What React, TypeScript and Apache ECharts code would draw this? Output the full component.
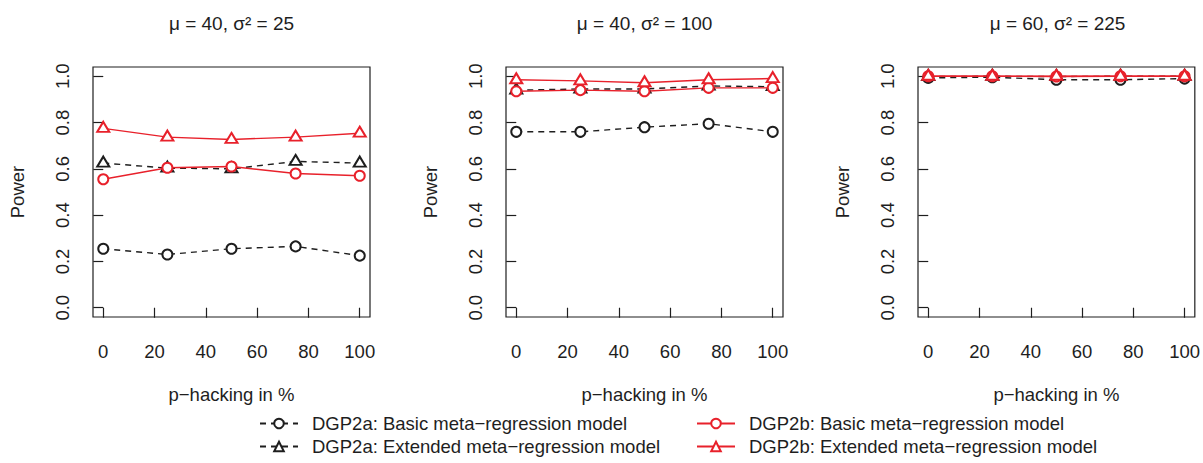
import React, { useEffect, useRef } from "react";
import * as echarts from "echarts";

// Share of p-hacked studies (x) and rejection rate / power (y)
const pHacking = [0, 25, 50, 75, 100];
const xTickValues = [0, 20, 40, 60, 80, 100];
const yTickValues = [0, 0.2, 0.4, 0.6, 0.8, 1.0];

const panelTitles = ["μ = 40, σ² = 25", "μ = 40, σ² = 100", "μ = 60, σ² = 225"];
const xAxisName = "p−hacking in %";
const yAxisName = "Power";

const nameBasicA = "DGP2a: Basic meta−regression model";
const nameExtA = "DGP2a: Extended meta−regression model";
const nameBasicB = "DGP2b: Basic meta−regression model";
const nameExtB = "DGP2b: Extended meta−regression model";

// Panel 1: μ = 40, σ² = 25
const basicA1 = [0.255, 0.23, 0.255, 0.265, 0.225];
const extA1 = [0.625, 0.603, 0.6, 0.632, 0.625];
const basicB1 = [0.555, 0.605, 0.61, 0.58, 0.57];
const extB1 = [0.775, 0.737, 0.727, 0.737, 0.754];

// Panel 2: μ = 40, σ² = 100
const basicA2 = [0.76, 0.76, 0.78, 0.795, 0.76];
const extA2 = [0.94, 0.945, 0.945, 0.958, 0.955];
const basicB2 = [0.935, 0.94, 0.935, 0.95, 0.95];
const extB2 = [0.985, 0.98, 0.972, 0.985, 0.99];

// Panel 3: μ = 60, σ² = 225
const basicA3 = [0.993, 0.996, 0.985, 0.985, 0.99];
const extA3 = [0.999, 1.0, 0.999, 1.0, 1.0];
const basicB3 = [1.0, 1.0, 0.999, 1.0, 1.0];
const extB3 = [1.0, 1.0, 1.0, 1.0, 1.0];

const panels = [
  { basicA: basicA1, extA: extA1, basicB: basicB1, extB: extB1 },
  { basicA: basicA2, extA: extA2, basicB: basicB2, extB: extB2 },
  { basicA: basicA3, extA: extA3, basicB: basicB3, extB: extB3 },
];

const FONT = "'Liberation Sans', Arial, 'DejaVu Sans', sans-serif";
const INK = "#1e1e1e";
const RED = "#e8212b";
const FS = 18.5;

const gridBoxes = [
  { left: 93, width: 277 },
  { left: 506, width: 277 },
  { left: 918, width: 279 },
];
const GRID_TOP = 67;
const GRID_HEIGHT = 250;

// Legend slots: one entry per key, two columns of two rows
const legendSlots = [
  { name: nameBasicA, left: 259, top: 414 },
  { name: nameExtA, left: 259, top: 437 },
  { name: nameBasicB, left: 696, top: 414 },
  { name: nameExtB, left: 696, top: 437 },
];

export default function App() {
  const ref = useRef<HTMLDivElement | null>(null);

  useEffect(() => {
    if (!ref.current) return;
    const chart = echarts.init(ref.current, null, { renderer: "svg" });

    const grids: any[] = [];
    const xAxes: any[] = [];
    const yAxes: any[] = [];
    const series: any[] = [];
    const graphics: any[] = [];

    const toPts = (vals: number[]) => pHacking.map((x, i) => [x, vals[i]]);

    panels.forEach((p, i) => {
      const box = gridBoxes[i];
      grids.push({
        left: box.left,
        top: GRID_TOP,
        width: box.width,
        height: GRID_HEIGHT,
        show: true,
        borderColor: INK,
        borderWidth: 1.2,
        backgroundColor: "transparent",
        containLabel: false,
      });
      xAxes.push({
        type: "value",
        gridIndex: i,
        min: -4,
        max: 104,
        splitLine: { show: false },
        axisLine: { show: false },
        axisTick: {
          show: true,
          inside: false,
          length: 10,
          customValues: xTickValues,
          lineStyle: { color: INK, width: 1.2 },
        },
        axisLabel: {
          customValues: xTickValues,
          margin: 25,
          color: INK,
          fontFamily: FONT,
          fontSize: FS,
        },
        name: xAxisName,
        nameLocation: "middle",
        nameGap: 68,
        nameTextStyle: { color: INK, fontFamily: FONT, fontSize: FS },
      });
      yAxes.push({
        type: "value",
        gridIndex: i,
        min: -0.04,
        max: 1.04,
        splitLine: { show: false },
        axisLine: { show: false },
        axisTick: {
          show: true,
          inside: false,
          length: 10,
          customValues: yTickValues,
          lineStyle: { color: INK, width: 1.2 },
        },
        axisLabel: {
          customValues: yTickValues,
          rotate: 90,
          margin: 21,
          color: INK,
          fontFamily: FONT,
          fontSize: FS,
          formatter: (v: number) => v.toFixed(1),
        },
        name: yAxisName,
        nameLocation: "middle",
        nameGap: 66,
        nameRotate: 90,
        nameTextStyle: { color: INK, fontFamily: FONT, fontSize: FS },
      });

      const common = {
        type: "line",
        xAxisIndex: i,
        yAxisIndex: i,
        showAllSymbol: true,
        silent: true,
      };
      series.push(
        {
          ...common,
          name: nameBasicA,
          data: toPts(p.basicA),
          symbol: "emptyCircle",
          symbolSize: 10,
          lineStyle: { color: INK, width: 1.4, type: [6, 5] },
          itemStyle: { color: INK, borderColor: INK, borderWidth: 2 },
        },
        {
          ...common,
          name: nameExtA,
          data: toPts(p.extA),
          symbol: "emptyTriangle",
          symbolSize: [12, 10],
          symbolOffset: [0, -1.5],
          lineStyle: { color: INK, width: 1.4, type: [6, 5] },
          itemStyle: { color: INK, borderColor: INK, borderWidth: 2 },
        },
        {
          ...common,
          name: nameBasicB,
          data: toPts(p.basicB),
          symbol: "emptyCircle",
          symbolSize: 10,
          lineStyle: { color: RED, width: 1.4, type: "solid" },
          itemStyle: { color: RED, borderColor: RED, borderWidth: 2 },
        },
        {
          ...common,
          name: nameExtB,
          data: toPts(p.extB),
          symbol: "emptyTriangle",
          symbolSize: [12, 10],
          symbolOffset: [0, -1.5],
          lineStyle: { color: RED, width: 1.4, type: "solid" },
          itemStyle: { color: RED, borderColor: RED, borderWidth: 2 },
        }
      );

      graphics.push({
        type: "text",
        x: box.left + box.width / 2,
        y: 23,
        style: {
          text: panelTitles[i],
          align: "center",
          verticalAlign: "middle",
          fill: INK,
          font: `19px ${FONT}`,
        },
        silent: true,
      });
    });

    const legends = legendSlots.map((slot) => ({
      orient: "horizontal",
      left: slot.left,
      top: slot.top,
      itemWidth: 38,
      itemHeight: 12,
      padding: 0,
      selectedMode: false,
      data: [slot.name],
      textStyle: {
        color: INK,
        fontFamily: FONT,
        fontSize: FS,
        padding: [0, 0, 0, 9],
      },
    }));

    chart.setOption({
      animation: false,
      backgroundColor: "#ffffff",
      textStyle: { fontFamily: FONT },
      grid: grids,
      xAxis: xAxes,
      yAxis: yAxes,
      series,
      legend: legends,
      graphic: graphics,
    });

    return () => chart.dispose();
  }, []);

  return (
    <div
      ref={ref}
      style={{ position: "fixed", left: 0, top: 0, width: 1203, height: 463, background: "#fff" }}
    />
  );
}
